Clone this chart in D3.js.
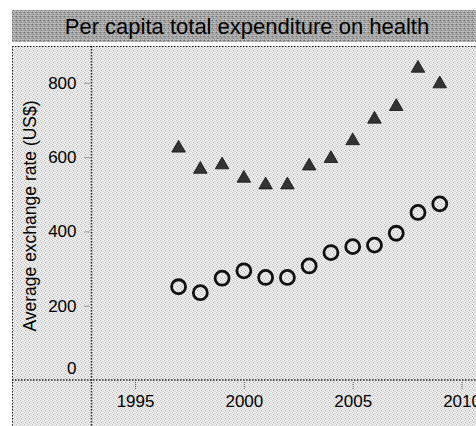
<!DOCTYPE html>
<html>
<head>
<meta charset="utf-8">
<script src="https://cdn.jsdelivr.net/npm/d3@7"></script>
<style>
  body { margin: 0; background: #fff; }
  svg { display: block; font-family: "Liberation Sans", Arial, sans-serif; }
</style>
</head>
<body>
<svg id="chart" width="476" height="426"></svg>
<script>
// data
const years = [1997, 1998, 1999, 2000, 2001, 2002, 2003, 2004, 2005, 2006, 2007, 2008, 2009];
const triangleValues = [624, 567, 579, 543, 525, 525, 576, 596, 644, 702, 736, 839, 797];
const circleValues = [251, 235, 274, 294, 276, 276, 307, 343, 359, 363, 395, 451, 474];
const yTicks = [0, 200, 400, 600, 800];
const xTicks = [1995, 2000, 2005, 2010];
const title = "Per capita total expenditure on health";
const yLabel = "Average exchange rate (US$)";

const svg = d3.select("#chart");
const W = 476, H = 426;

// textures (dithered look)
const defs = svg.append("defs");
const p1 = defs.append("pattern").attr("id", "panelTex")
  .attr("width", 4).attr("height", 4).attr("patternUnits", "userSpaceOnUse");
p1.append("rect").attr("width", 4).attr("height", 4).attr("fill", "#eeeeee");
[[0,0,"#b8b8b8"],[2,1,"#d0d0d0"],[1,2,"#aaaaaa"],[3,3,"#d4d4d4"],[2,3,"#dadada"],[3,1,"#e2e2e2"]].forEach(([x, y, c]) =>
  p1.append("rect").attr("x", x).attr("y", y).attr("width", 1).attr("height", 1).attr("fill", c));

const p2 = defs.append("pattern").attr("id", "stripTex")
  .attr("width", 4).attr("height", 4).attr("patternUnits", "userSpaceOnUse");
p2.append("rect").attr("width", 4).attr("height", 4).attr("fill", "#a6a6a6");
[[0,0,"#6e6e6e"],[2,1,"#c8c8c8"],[1,2,"#7c7c7c"],[3,3,"#c6c6c6"],[3,0,"#8c8c8c"],[1,3,"#cccccc"]].forEach(([x, y, c]) =>
  p2.append("rect").attr("x", x).attr("y", y).attr("width", 1).attr("height", 1).attr("fill", c));

// title strip
svg.append("rect").attr("x", 12).attr("y", 10).attr("width", W - 12).attr("height", 32)
  .attr("fill", "url(#stripTex)");
svg.append("text").attr("x", 247).attr("y", 34).attr("text-anchor", "middle")
  .attr("font-size", 22).attr("fill", "#000").text(title);

// panel
svg.append("rect").attr("x", 12).attr("y", 46).attr("width", W - 12).attr("height", H - 46)
  .attr("fill", "url(#panelTex)");

const x = d3.scaleLinear().domain([1993, 2011]).range([91.5, 483.3]);
const y = d3.scaleLinear().domain([0, 800]).range([380, 82.8]);

const dotted = sel => sel.attr("stroke", "#222").attr("stroke-width", 1.5).attr("stroke-dasharray", "1.5,1.5");

// frame lines
svg.append("line").attr("x1", 12).attr("x2", W).attr("y1", 46.5).attr("y2", 46.5).call(dotted).attr("stroke-width", 1);
svg.append("line").attr("x1", 12.5).attr("x2", 12.5).attr("y1", 46).attr("y2", H).call(dotted).attr("stroke-width", 1);
svg.append("line").attr("x1", 12).attr("x2", W).attr("y1", y(0)).attr("y2", y(0)).call(dotted);
svg.append("line").attr("x1", x.range()[0]).attr("x2", x.range()[0]).attr("y1", 46).attr("y2", H).call(dotted);

// y axis
const yAxis = svg.append("g").attr("transform", `translate(${x.range()[0] - 2},0)`)
  .call(d3.axisLeft(y).tickValues(yTicks).tickSize(6).tickPadding(7).tickFormat(d3.format("d")));
yAxis.select(".domain").remove();
yAxis.selectAll(".tick line").attr("stroke", "#555").attr("stroke-dasharray", "1,1");
yAxis.selectAll(".tick text").attr("font-size", 17).attr("fill", "#000")
  .attr("font-family", "Liberation Sans, Arial, sans-serif");
yAxis.selectAll(".tick").filter(d => d === 0).select("line").remove();
yAxis.selectAll(".tick").filter(d => d === 0).select("text").attr("dy", "-0.4em");

// x axis
const xAxis = svg.append("g").attr("transform", `translate(0,${y(0) + 2})`)
  .call(d3.axisBottom(x).tickValues(xTicks).tickSize(7).tickPadding(6).tickFormat(d3.format("d")));
xAxis.select(".domain").remove();
xAxis.selectAll(".tick line").attr("stroke", "#555").attr("stroke-dasharray", "1,1");
xAxis.selectAll(".tick text").attr("font-size", 17).attr("fill", "#000")
  .attr("font-family", "Liberation Sans, Arial, sans-serif");

// y label
svg.append("text").attr("transform", `translate(36,216) rotate(-90)`)
  .attr("text-anchor", "middle").attr("font-size", 17.5).attr("fill", "#000").text(yLabel);

// marks
const tri = d3.symbol().type(d3.symbolTriangle).size(80);
svg.append("g").selectAll("path").data(years).join("path")
  .attr("d", tri)
  .attr("transform", (d, i) => `translate(${x(d)},${y(triangleValues[i])})`)
  .attr("fill", "#333").attr("stroke", "#111").attr("stroke-width", 0.8);

svg.append("g").selectAll("circle").data(years).join("circle")
  .attr("cx", d => x(d)).attr("cy", (d, i) => y(circleValues[i]))
  .attr("r", 7).attr("fill", "none").attr("stroke", "#111").attr("stroke-width", 2.8);
</script>
</body>
</html>
